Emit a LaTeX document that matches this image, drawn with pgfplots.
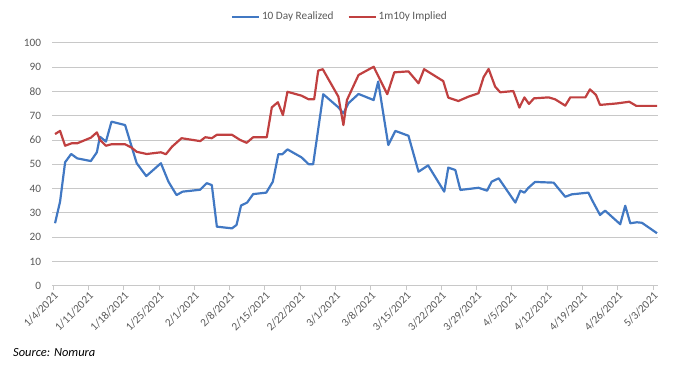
\documentclass[border=0pt]{standalone}
\usepackage{fontspec}
\setmainfont{Carlito}
\usepackage{pgfplots}
\pgfplotsset{compat=1.18}
\definecolor{rblue}{RGB}{65,120,195}
\definecolor{rred}{RGB}{192,64,64}
\definecolor{txt}{RGB}{89,89,89}
\definecolor{grd}{RGB}{200,200,200}
\begin{document}
\begin{tikzpicture}[x=1bp,y=1bp]
\useasboundingbox (0,0) rectangle (674,368);
\begin{axis}[
  at={(52bp,82.3bp)}, anchor=south west,
  scale only axis, width=606bp, height=243bp,
  xmin=-0.2, xmax=120, ymin=0, ymax=100,
  separate axis lines,
  axis x line*=bottom, axis y line*=left,
  x axis line style={grd, line width=0.7pt, -},
  y axis line style={draw=none},
  ytick={0,10,...,100},
  xtick={0,7,...,119},
  xticklabels={1/4/2021,1/11/2021,1/18/2021,1/25/2021,2/1/2021,2/8/2021,2/15/2021,2/22/2021,3/1/2021,3/8/2021,3/15/2021,3/22/2021,3/29/2021,4/5/2021,4/12/2021,4/19/2021,4/26/2021,5/3/2021},
  ymajorgrids, grid style={grd, line width=0.7pt},
  ytick style={draw=none},
  xtick style={grd, line width=0.7pt},
  tick align=outside, major tick length=4bp,
  tick label style={font=\fontsize{11.3}{13}\selectfont, text=txt},
  yticklabel style={xshift=-3.5bp},
  xticklabel style={rotate=45, anchor=north east, inner sep=1pt},
  /pgf/number format/assume math mode=true,
  legend style={at={(0.475,1.107)}, anchor=center, draw=none, fill=none,
    legend columns=2, font=\fontsize{11.3}{13}\selectfont, text=txt,
    /tikz/every even column/.append style={column sep=12bp}},
  legend image code/.code={\draw[#1] (0bp,0bp) -- (27bp,0bp);},
]
\addplot[rblue, line width=2.2pt, line join=round] coordinates {
(0.4,25.7) (1.4,34.6) (2.4,50.8) (3.6,54.2) (4.8,52.4) (7.5,51.3) (8.7,54.9)
(9.3,61.3) (10.5,59.3) (11.6,67.5) (14.3,66.1) (16.6,50.4) (18.5,45.1)
(21.4,50.4) (22.9,42.8) (24.5,37.3) (25.7,38.7) (29.2,39.5) (30.5,42.2)
(31.5,41.4) (32.5,24.3) (35.5,23.6) (36.4,25.0) (37.3,33.0) (38.5,34.2)
(39.7,37.7) (42.3,38.3) (43.6,42.8) (44.7,54.1) (45.5,54.1) (46.5,56.1)
(49.3,52.8) (50.7,50.0) (51.6,50.0) (53.6,78.8) (56.6,73.4) (57.6,70.9)
(58.6,75.1) (60.6,78.9) (63.6,76.4) (64.5,84.0) (66.5,57.9) (67.9,63.7)
(70.5,61.7) (72.5,46.9) (74.4,49.5) (77.6,38.7) (78.4,48.6) (79.8,47.6)
(80.8,39.4) (84.4,40.3) (86.1,39.1) (87.0,42.8) (88.4,44.2) (91.7,34.2)
(92.7,39.1) (93.5,38.3) (94.3,40.3) (95.6,42.7) (99.3,42.4) (101.6,36.6)
(102.9,37.6) (106.2,38.3) (106.9,35.3) (108.5,29.1) (109.5,30.9)
(112.5,25.3) (113.5,32.9) (114.5,25.7) (115.8,26.1) (116.8,25.9) (119.8,21.6)
};
\addlegendentry{10 Day Realized}
\addplot[rred, line width=2.2pt, line join=round] coordinates {
(0.4,62.4) (1.4,63.7) (2.4,57.6) (3.7,58.6) (4.8,58.6) (7.5,60.9) (8.7,63.1)
(9.3,60.0) (10.5,57.6) (11.6,58.2) (14.3,58.2) (15.6,56.8) (16.6,55.1)
(18.6,54.2) (21.4,54.9) (22.4,54.1) (23.6,57.2) (25.5,60.7) (29.2,59.5)
(30.2,61.1) (31.5,60.7) (32.5,62.1) (35.5,62.1) (37.1,60.0) (38.4,58.8)
(39.7,61.1) (42.4,61.1) (43.4,73.4) (44.6,75.5) (45.6,70.2) (46.5,79.8)
(49.3,78.2) (50.7,76.7) (51.8,76.7) (52.6,88.5) (53.5,89.1) (56.6,77.8)
(57.6,66.1) (58.3,76.4) (60.6,86.7) (63.6,90.1) (66.3,78.8) (67.7,87.8)
(70.5,88.2) (72.5,83.3) (73.6,89.1) (77.4,84.2) (78.4,77.4) (80.4,76.0)
(82.4,77.8) (84.4,79.2) (85.4,85.8) (86.4,89.2) (87.7,81.9) (88.7,79.6)
(91.3,80.1) (92.5,73.3) (93.5,77.5) (94.4,74.8) (95.4,77.1) (98.3,77.5)
(99.6,76.7) (101.6,74.1) (102.6,77.5) (105.6,77.5) (106.5,80.8) (107.7,78.5)
(108.5,74.4) (111.8,75.0) (114.3,75.7) (115.7,74.0) (119.8,74.0)
};
\addlegendentry{1m10y Implied}
\end{axis}
\node[anchor=west, font=\itshape\fontsize{12.5}{14}\selectfont, inner sep=0pt] at (13,15) {Source: Nomura};
\end{tikzpicture}
\end{document}
